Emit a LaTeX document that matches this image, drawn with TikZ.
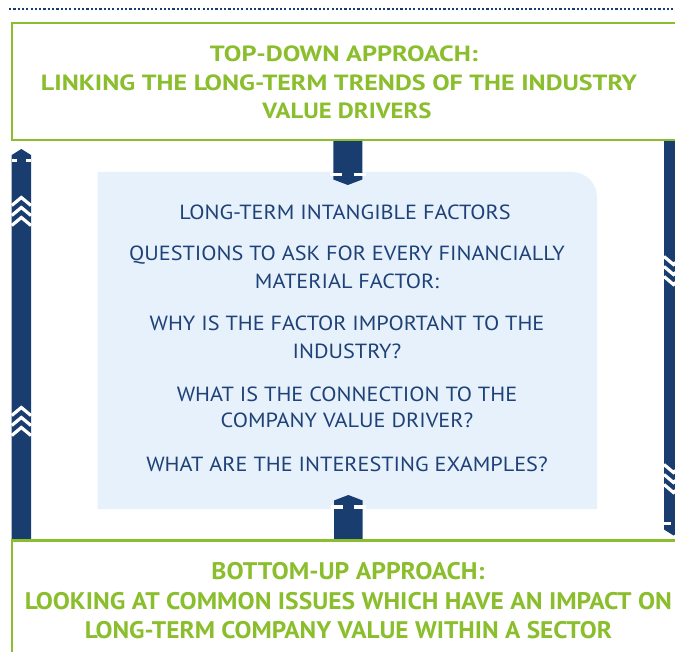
\documentclass[tikz,border=0pt]{standalone}
\usepackage{fontspec}
\setmainfont{PT Sans}
\usepackage{graphicx}
\definecolor{leafgreen}{RGB}{138,190,44}
\definecolor{barnavy}{RGB}{24,61,110}
\definecolor{inknavy}{RGB}{30,65,120}
\definecolor{panelblue}{RGB}{230,241,251}
% heading line stretched to a set width
\newcommand{\headfit}[2]{\resizebox{#1}{\height}{#2}}
% panel line, widened a little
\newcommand{\panelfit}[1]{\scalebox{1.085}[1]{#1}}
\tikzset{
  greenframe/.style={draw=leafgreen, line width=2.5pt, fill=white, inner sep=0pt},
  headline/.style={anchor=base, inner sep=0pt, text=leafgreen,
    font=\bfseries\fontsize{22}{22}\selectfont},
  tallheadline/.style={headline, font=\bfseries\fontsize{24}{24}\selectfont},
  panelline/.style={anchor=base, inner sep=0pt, text=inknavy,
    font=\fontsize{20.5}{20.5}\selectfont},
  chevron/.style={draw=white, line width=3.2pt, line join=miter},
  notch/.style={draw=white, line width=3.3pt},
  dotrule/.style={draw=barnavy, line width=2.2pt, dash pattern=on 2.2pt off 2.1pt},
}
\begin{document}
\begin{tikzpicture}[x=1pt,y=-1pt]
\useasboundingbox (0,0) rectangle (675,652);
\clip (0,0) rectangle (675,652);

% dotted rule along the top
\draw[dotrule] (9,9.3) -- (675,9.3);

% light panel with one rounded corner
\fill[panelblue] (97.5,509) -- (97.5,172)
  {[rounded corners=25pt] -- (597,172) -- (597,260)} -- (597,509) -- cycle;

% left upward bar
\fill[barnavy] (21.35,149) -- (31,155) -- (31,541) -- (11.7,541) -- (11.7,155) -- cycle;
\fill[white] (11.7,159.3) rectangle (16.7,162.3);
\fill[white] (26,159.3) rectangle (31,162.3);
\foreach \y in {197.5,207.5,217.5,407.5,417.5,427.5}
  \draw[chevron] (11.7,\y+8) -- (21.35,\y) -- (31,\y+8);

% right downward bar
\fill[barnavy] (664,141) -- (683,141) -- (683,529.5) -- (673.5,535.5) -- (664,529.5) -- cycle;
\fill[white] (664,522) rectangle (671,525);
\fill[white] (676,522) rectangle (683,525);
\foreach \y in {256.5,266.5,276.5,464.5,474.5,484.5}
  \draw[chevron] (664,\y) -- (673.5,\y+8) -- (683,\y);

% central downward arrow
\fill[barnavy] (333.3,140) -- (362.3,140) -- (362.3,179.5) -- (347.8,185) -- (333.3,179.5) -- cycle;
\draw[notch] (330,174.3) -- (342,174.3);
\draw[notch] (354,174.3) -- (366,174.3);

% central upward arrow
\fill[barnavy] (334,541) -- (334,500.5) -- (348.3,495) -- (362.7,500.5) -- (362.7,541) -- cycle;
\draw[notch] (331,507) -- (343.3,507);
\draw[notch] (354,507) -- (365.7,507);

% approach frames
\node[greenframe, minimum width=688pt, minimum height=117pt] (topbox) at (356,81.5) {};
\node[greenframe, minimum width=688pt, minimum height=160pt] (bottombox) at (356,620.6) {};

% top-down heading
\node[headline] (td1) at (344,61.7) {\headfit{268pt}{TOP-DOWN APPROACH:}};
\node[headline] (td2) at (339,90.5) {\headfit{596pt}{LINKING THE LONG-TERM TRENDS OF THE INDUSTRY}};
\node[headline] (td3) at (347,118.5) {\headfit{169pt}{VALUE DRIVERS}};

% panel questions
\node[panelline] (p1) at (345,220) {\panelfit{LONG-TERM INTANGIBLE FACTORS}};
\node[panelline] (p2) at (347,261) {\panelfit{QUESTIONS TO ASK FOR EVERY FINANCIALLY}};
\node[panelline] (p3) at (347,289) {\panelfit{MATERIAL FACTOR:}};
\node[panelline] (p4) at (347,331) {\panelfit{WHY IS THE FACTOR IMPORTANT TO THE}};
\node[panelline] (p5) at (347,359) {\panelfit{INDUSTRY?}};
\node[panelline] (p6) at (347,401) {\panelfit{WHAT IS THE CONNECTION TO THE}};
\node[panelline] (p7) at (347,428) {\panelfit{COMPANY VALUE DRIVER?}};
\node[panelline] (p8) at (347,471) {\panelfit{WHAT ARE THE INTERESTING EXAMPLES?}};

% bottom-up heading
\node[tallheadline] (bu1) at (348,579.5) {\headfit{273pt}{BOTTOM-UP APPROACH:}};
\node[tallheadline] (bu2) at (348.5,609.5) {\headfit{647pt}{LOOKING AT COMMON ISSUES WHICH HAVE AN IMPACT ON}};
\node[tallheadline] (bu3) at (348.5,638) {\headfit{527pt}{LONG-TERM COMPANY VALUE WITHIN A SECTOR}};
\end{tikzpicture}
\end{document}
